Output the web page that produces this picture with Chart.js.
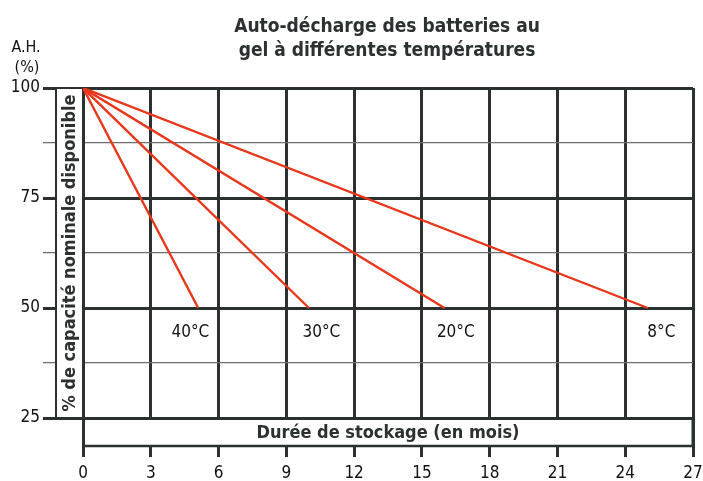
<!DOCTYPE html>
<html><head><meta charset="utf-8">
<script src="https://cdn.jsdelivr.net/npm/chart.js@4.4.1/dist/chart.umd.min.js"></script>
<style>html,body{margin:0;padding:0;background:#fff}#wrap{width:703px;height:481px}</style>
</head><body><div id="wrap"><canvas id="c" width="703" height="481"></canvas></div>
<script>
const titleLines = ["Auto-décharge des batteries au", "gel à différentes températures"];
const yUnitLines = ["A.H.", "(%)"];
const yAxisTitle = "% de capacité nominale disponible";
const xAxisTitle = "Durée de stockage (en mois)";
const xTicks = [0, 3, 6, 9, 12, 15, 18, 21, 24, 27];
const yTickLabels = {100: "100", 75: "75", 50: "50", 25: "25"};
const seriesNames = ["40°C", "30°C", "20°C", "8°C"];
const startX = [0, 0, 0, 0];
const startY = [100, 100, 100, 100];
const endX = [5.1, 10, 16, 25];
const endY = [50, 50, 50, 50];
const labelX = [4.75, 10.55, 16.5, 25.6];
const labelY = [44.5, 44.5, 44.5, 44.5];

const FONT = "'Liberation Sans Narrow', 'DejaVu Sans Condensed', 'Arial Narrow', sans-serif";
const DARK = '#2b3030';
const RED = '#e8361a';

const datasets = seriesNames.map((n, i) => ({
  label: n,
  data: [{x: startX[i], y: startY[i]}, {x: endX[i], y: endY[i]}],
  borderColor: RED, borderWidth: 2.4, pointRadius: 0, fill: false, tension: 0
}));

const decor = {
  id: 'decor',
  afterDraw(chart) {
    const ctx = chart.ctx, ca = chart.chartArea;
    const xs = chart.scales.x, ys = chart.scales.y;
    ctx.save();
    ctx.fillStyle = DARK;
    ctx.textAlign = 'center'; ctx.textBaseline = 'middle';
    ctx.font = "bold 19px " + FONT;
    ctx.fillText(titleLines[0], 387, 27);
    ctx.fillText(titleLines[1], 387, 51);
    ctx.fillStyle = '#111';
    ctx.font = "16px " + FONT;
    ctx.fillText(yUnitLines[0], 26, 48);
    ctx.fillText(yUnitLines[1], 27, 68);
    const y25 = ys.getPixelForValue(25);
    ctx.fillStyle = '#fff';
    ctx.fillRect(57, ca.top + 1, ca.left - 58, y25 - ca.top - 2);
    ctx.strokeStyle = DARK; ctx.lineWidth = 2;
    ctx.beginPath(); ctx.moveTo(56, ca.top); ctx.lineTo(56, y25 + 1); ctx.stroke();
    ctx.save();
    ctx.translate(70, (ca.top + y25) / 2);
    ctx.rotate(-Math.PI / 2);
    ctx.fillStyle = DARK;
    ctx.font = "bold 18px " + FONT;
    ctx.fillText(yAxisTitle, 0, 0);
    ctx.restore();
    const bx0 = ca.left, bx1 = ca.right;
    const by0 = y25, by1 = 446;
    ctx.fillStyle = '#fff';
    ctx.fillRect(bx0 + 2, by0 + 2, bx1 - bx0 - 3, by1 - by0 - 3);
    ctx.strokeStyle = DARK; ctx.lineWidth = 2.5;
    ctx.beginPath(); ctx.moveTo(bx0, by1); ctx.lineTo(bx1 + 1, by1); ctx.stroke();
    ctx.lineWidth = 3;
    ctx.beginPath(); ctx.moveTo(bx1, by0); ctx.lineTo(bx1, by1); ctx.stroke();
    ctx.fillStyle = DARK;
    ctx.font = "bold 18px " + FONT;
    ctx.fillText(xAxisTitle, (bx0 + bx1) / 2, 433);
    ctx.fillStyle = '#111';
    ctx.font = "17px " + FONT;
    seriesNames.forEach((n, i) => {
      ctx.fillText(n, xs.getPixelForValue(labelX[i]), ys.getPixelForValue(labelY[i]));
    });
    ctx.restore();
  }
};

new Chart(document.getElementById('c'), {
  type: 'line',
  data: { datasets },
  options: {
    responsive: false, animation: false, devicePixelRatio: 1,
    layout: { padding: { left: 0, top: 88, right: 10, bottom: 0 } },
    plugins: { legend: { display: false }, title: { display: false }, tooltip: { enabled: false } },
    scales: {
      x: {
        type: 'linear', min: 0, max: 27,
        afterBuildTicks: s => { s.ticks = xTicks.map(v => ({ value: v })); },
        afterFit: s => { s.height = 481 - 418; s.paddingLeft = 0; s.paddingRight = 0; },
        ticks: { color: '#111', font: { family: FONT, size: 17 }, padding: 6, maxRotation: 0, autoSkip: false },
        grid: { color: DARK, lineWidth: 3, tickLength: 39, tickColor: DARK, tickWidth: 3 },
        border: { color: DARK, width: 3 }
      },
      y: {
        min: 25, max: 100,
        afterBuildTicks: s => { const t = []; for (let v = 25; v <= 100; v += 12.5) t.push({ value: v }); s.ticks = t; },
        afterFit: s => { s.width = 83; s.paddingTop = 0; s.paddingBottom = 0; },
        ticks: {
          color: '#111', font: { family: FONT, size: 17 }, padding: 3,
          callback: v => yTickLabels[v] || ''
        },
        grid: {
          color: c => (c.tick && c.tick.value % 25 === 0) ? DARK : '#6a6e6e',
          lineWidth: c => (c.tick && c.tick.value % 25 === 0) ? 3 : 1.2,
          tickLength: 40,
          tickColor: c => (c.tick && c.tick.value % 25 === 0) ? DARK : '#6a6e6e',
          tickWidth: c => (c.tick && c.tick.value % 25 === 0) ? 3 : 1.2
        },
        border: { color: DARK, width: 3 }
      }
    }
  },
  plugins: [decor]
});
</script></body></html>
